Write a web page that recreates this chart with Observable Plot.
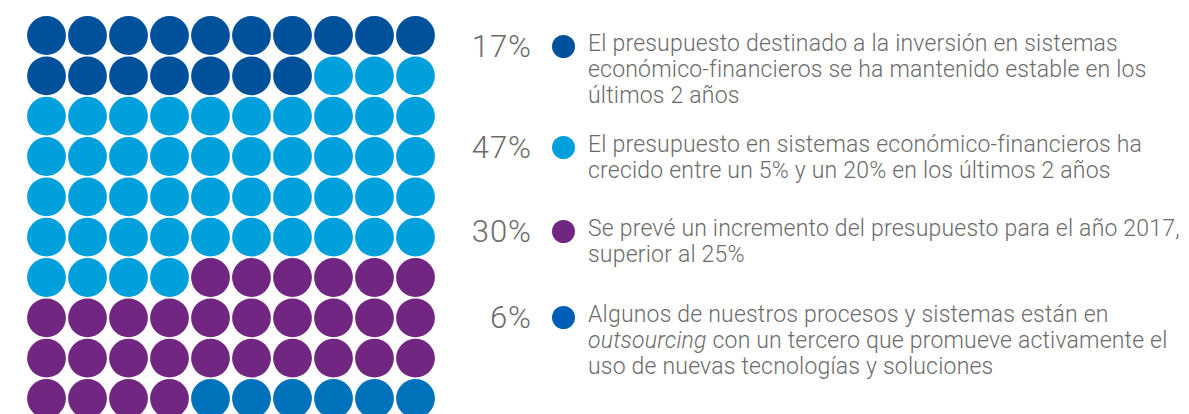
<!DOCTYPE html>
<html>
<head>
<meta charset="utf-8">
<script src="https://cdn.jsdelivr.net/npm/d3@7"></script>
<script src="https://cdn.jsdelivr.net/npm/@observablehq/plot@0.6"></script>
<style>
  html, body { margin: 0; padding: 0; background: #fff; }
  #wrap { position: relative; width: 1189px; height: 414px; overflow: hidden; font-family: Roboto, "Liberation Sans", sans-serif; color: #6b6b6b; }
  #chart { position: absolute; left: 0; top: 0; }
  .item { position: absolute; left: 470px; width: 719px; }
  .pct { position: absolute; left: 0; width: 62px; text-align: right; font-size: 31px; font-weight: 300; line-height: 30px; letter-spacing: 1px; }
  .dot { position: absolute; left: 82px; width: 23px; height: 23px; border-radius: 50%; }
  .txt { position: absolute; left: 118px; width: 640px; font-size: 23px; font-weight: 300; line-height: 26px; letter-spacing: 0.2px; white-space: nowrap; }
</style>
</head>
<body>
<div id="wrap">
  <div id="chart"></div>
  <div id="legend"></div>
</div>
<script>
// Categories and values (percent of 100 dots)
const categories = ["estable", "crecido", "incremento", "outsourcing"];
const values = [17, 47, 30, 6];
const waffleColors = ["#00519b", "#00a0dd", "#712782", "#0072bb"];
const legendColors = ["#00519b", "#00a0dd", "#712782", "#005eb8"];
const pctLabels = ["17%", "47%", "30%", "6%"];
const descLines = [
  ["El presupuesto destinado a la inversión en sistemas", "económico-financieros se ha mantenido estable en los", "últimos 2 años"],
  ["El presupuesto en sistemas económico-financieros ha", "crecido entre un 5% y un 20% en los últimos 2 años"],
  ["Se prevé un incremento del presupuesto para el año 2017,", "superior al 25%"],
  ["Algunos de nuestros procesos y sistemas están en", "<i>outsourcing</i> con un tercero que promueve activamente el", "uso de nuevas tecnologías y soluciones"]
];

// Build the 10x10 waffle cells
const cols = 10;
const cells = [];
let k = 0;
categories.forEach((c, i) => {
  for (let j = 0; j < values[i]; j++, k++) {
    cells.push({cat: c, col: k % cols, row: Math.floor(k / cols)});
  }
});

const plot = Plot.plot({
  width: 440,
  height: 414,
  marginLeft: 46,
  marginRight: 25,
  marginTop: 35,
  marginBottom: 16,
  x: {domain: [0, 9], axis: null},
  y: {domain: [0, 9], axis: null, reverse: true},
  color: {domain: categories, range: waffleColors},
  marks: [
    Plot.dot(cells, {x: "col", y: "row", r: 19.4, fill: "cat", stroke: null})
  ]
});
document.getElementById("chart").appendChild(plot);

// Legend (HTML, to the right of the waffle)
const itemTops = [31, 132, 216, 302];
const legend = document.getElementById("legend");
categories.forEach((c, i) => {
  const it = document.createElement("div");
  it.className = "item";
  it.style.top = itemTops[i] + "px";
  it.innerHTML =
    `<div class="pct" style="top:1px">${pctLabels[i]}</div>` +
    `<div class="dot" style="top:4px;background:${legendColors[i]}"></div>` +
    `<div class="txt" style="top:0px">${descLines[i].join("<br>")}</div>`;
  legend.appendChild(it);
});
</script>
</body>
</html>
